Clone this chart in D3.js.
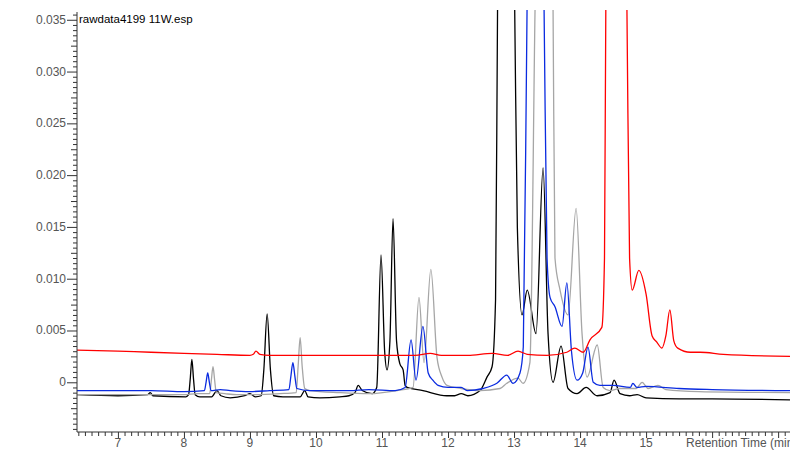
<!DOCTYPE html>
<html>
<head>
<meta charset="utf-8">
<script src="https://cdn.jsdelivr.net/npm/d3@7"></script>
<style>
  body { margin: 0; background: #fff; }
  svg { display: block; font-family: "Liberation Sans", Arial, sans-serif; }
  .trace { fill: none; stroke-width: 1.3; stroke-linejoin: round; }
</style>
</head>
<body>
<div id="chart"></div>
<script>
// retention time (min), absorbance
var titleText = 'rawdata4199 11W.esp';
var xLabel = 'Retention Time (min)';
var xTicks = [7, 8, 9, 10, 11, 12, 13, 14, 15];
var yTicks = [0, 0.005, 0.010, 0.015, 0.020, 0.025, 0.030, 0.035];
var yTickLabels = ['0', '0.005', '0.010', '0.015', '0.020', '0.025', '0.030', '0.035'];

var blackTrace = [
  [6.38,-0.0012],[7.0,-0.0013],[7.45,-0.0012],[7.49,-0.0010],[7.53,-0.0013],[8.03,-0.0014],
  [8.07,-0.0012],[8.095,0.0003],[8.12,0.0022],[8.145,0.0003],[8.17,-0.0012],[8.24,-0.0014],
  [8.42,-0.0014],[8.5,-0.0008],[8.56,-0.0013],[8.7,-0.0015],[8.92,-0.0013],[9.0,-0.0011],
  [9.08,-0.0014],[9.17,-0.0013],[9.21,0.0012],[9.26,0.0066],[9.31,0.0012],[9.36,-0.0013],
  [9.5,-0.0014],[9.76,-0.0014],[9.83,-0.0008],[9.88,-0.0014],[10.06,-0.0015],[10.36,-0.0014],
  [10.5,-0.0013],[10.59,-0.0010],[10.64,-0.0003],[10.7,-0.0008],[10.85,-0.0011],[10.92,-0.0005],
  [10.985,0.0123],[11.04,0.0030],[11.076,0.0012],[11.12,0.0040],[11.167,0.0158],[11.22,0.0040],
  [11.27,0.0018],[11.32,0.0012],[11.35,-0.0003],[11.38,-0.0005],[11.62,-0.0008],[11.98,-0.0013],
  [12.1,-0.0013],[12.2,-0.0011],[12.3,-0.0013],[12.485,-0.0008],[12.59,0.0005],[12.667,0.0015],
  [12.72,0.008],[12.75,0.036],[12.88,0.09],[13.01,0.036],[13.05,0.015],[13.121,0.0065],
  [13.2,0.0089],[13.333,0.0047],[13.44,0.0207],[13.515,0.0047],[13.591,0.0],[13.712,0.0035],
  [13.818,-0.0006],[13.955,-0.0011],[14.091,-0.0005],[14.258,-0.0013],[14.455,-0.0010],
  [14.515,0.0002],[14.606,-0.0011],[14.75,-0.0013],[14.864,-0.0012],[15.0,-0.0015],
  [15.5,-0.0016],[16.0,-0.0016],[17.18,-0.0017]
];

var grayTrace = [
  [6.38,-0.0012],[7.5,-0.0012],[8.0,-0.0012],[8.2,-0.0011],[8.39,-0.0011],[8.415,0.0002],
  [8.44,0.0015],[8.465,0.0002],[8.49,-0.0010],[8.62,-0.0011],[8.8,-0.0012],[9.0,-0.0012],
  [9.45,-0.0011],[9.70,-0.0010],[9.73,0.0016],[9.76,0.0043],[9.79,0.0016],[9.83,-0.0006],
  [9.91,-0.0008],[10.36,-0.0010],[10.8,-0.0011],[11.23,-0.0008],[11.47,-0.0005],[11.56,0.0082],
  [11.636,0.0019],[11.74,0.0109],[11.833,0.0024],[11.909,0.0005],[11.985,-0.0003],[12.2,-0.0006],
  [12.485,-0.0008],[12.788,-0.0006],[12.89,-0.0001],[13.06,0.0004],[13.136,-0.0001],[13.24,0.0019],
  [13.318,0.036],[13.45,0.09],[13.591,0.036],[13.62,0.012],[13.697,0.0089],[13.818,0.0065],
  [13.94,0.0168],[14.03,0.0047],[14.106,0.0005],[14.26,0.0036],[14.35,-0.0005],[14.45,-0.0008],
  [14.6,-0.0006],[14.85,-0.0006],[14.94,0.0],[15.03,-0.0006],[15.18,-0.0003],[15.3,-0.0007],
  [15.8,-0.0009],[17.18,-0.0010]
];

var blueTrace = [
  [6.38,-0.0008],[7.5,-0.0008],[8.0,-0.0009],[8.31,-0.0008],[8.335,0.0000],[8.36,0.0009],
  [8.385,0.0000],[8.41,-0.0008],[8.55,-0.0007],[8.7,-0.0008],[9.0,-0.0009],[9.3,-0.0008],
  [9.59,-0.0007],[9.62,0.0006],[9.65,0.0019],[9.68,0.0006],[9.71,-0.0006],[9.9,-0.0008],
  [10.5,-0.0008],[10.8,-0.0007],[11.2,-0.0008],[11.35,-0.0005],[11.44,0.0041],[11.515,0.0002],
  [11.62,0.0054],[11.7,0.0009],[11.77,0.0002],[11.85,-0.0003],[12.0,-0.0005],[12.2,-0.0005],
  [12.29,-0.0008],[12.53,-0.0006],[12.74,-0.0001],[12.89,0.0007],[12.985,-0.0001],[13.09,0.0009],
  [13.14,0.0034],[13.197,0.036],[13.33,0.09],[13.455,0.036],[13.5,0.012],[13.545,0.0082],
  [13.62,0.0073],[13.727,0.0054],[13.8,0.0096],[13.87,0.003],[13.955,0.0002],[14.04,0.0009],
  [14.12,0.0034],[14.2,0.0],[14.3,-0.0003],[14.5,-0.0003],[14.76,-0.0005],[14.8,-0.0001],
  [14.86,-0.0005],[15.0,-0.0004],[15.5,-0.0006],[16.0,-0.0007],[17.18,-0.0008]
];

var redTrace = [
  [6.38,0.0031],[7.0,0.0030],[7.5,0.0029],[8.0,0.0028],[8.5,0.0027],[9.0,0.0026],[9.05,0.0027],
  [9.09,0.0030],[9.15,0.0027],[9.3,0.0026],[10.0,0.0026],[10.5,0.0026],[11.0,0.0026],[11.5,0.0026],
  [11.73,0.0028],[11.9,0.0026],[12.3,0.0026],[12.67,0.0028],[12.9,0.0026],[13.06,0.0030],
  [13.2,0.0027],[13.5,0.0026],[13.8,0.0029],[13.92,0.0033],[14.05,0.0029],[14.15,0.0041],
  [14.33,0.0053],[14.37,0.012],[14.39,0.036],[14.55,0.09],[14.71,0.036],[14.75,0.012],
  [14.79,0.0089],[14.89,0.0108],[15.0,0.0085],[15.09,0.0045],[15.16,0.0039],[15.24,0.0033],
  [15.3,0.0045],[15.36,0.0070],[15.42,0.0040],[15.48,0.0033],[15.67,0.0029],[15.82,0.0029],
  [16.17,0.0027],[17.18,0.0025]
];

var traces = [
  {name: 'black', color: '#000000', values: blackTrace},
  {name: 'gray', color: '#a6a6a6', values: grayTrace},
  {name: 'blue', color: '#0a2be0', values: blueTrace},
  {name: 'red', color: '#ff0000', values: redTrace}
];

var width = 790, height = 450;
var plot = {left: 77, right: 790, top: 12, bottom: 432};

var x = d3.scaleLinear().domain([6.38, 17.18]).range([plot.left, plot.right]);
var y = d3.scaleLinear().domain([-0.0048, 0.03575]).range([plot.bottom, plot.top]);

var svg = d3.select('#chart').append('svg')
    .attr('width', width).attr('height', height);

svg.append('defs').append('clipPath').attr('id', 'plot-clip')
  .append('rect')
    .attr('x', plot.left).attr('y', plot.top - 2)
    .attr('width', plot.right - plot.left).attr('height', plot.bottom - plot.top + 2);

var line = d3.line()
    .x(function(d){ return x(d[0]); })
    .y(function(d){ return y(d[1]); })
    .curve(d3.curveMonotoneX);

svg.append('g').attr('clip-path', 'url(#plot-clip)')
  .selectAll('path.trace')
  .data(traces).enter().append('path')
    .attr('class', function(d){ return 'trace ' + d.name; })
    .attr('stroke', function(d){ return d.color; })
    .attr('d', function(d){ return line(d.values); });

// y axis, minor ticks every 0.0005
var yAxis = d3.axisLeft(y)
    .tickValues(d3.range(-0.0045, 0.0357, 0.0005))
    .tickFormat('')
    .tickSizeOuter(0)
    .tickSize(4);
var yAxisG = svg.append('g').attr('class', 'y-axis')
    .attr('transform', 'translate(' + plot.left + ',0)')
    .call(yAxis);
yAxisG.selectAll('.tick line')
    .attr('x2', function(d){
        var k = Math.round(d / 0.0005);
        if(k % 10 == 0) return -10;
        if(k % 5 == 0) return -6;
        return -4;
    });
yAxisG.selectAll('.tick text').remove();
yAxisG.select('.domain').attr('d', 'M0,' + plot.top + 'V' + plot.bottom);

svg.append('g').selectAll('text.ylab')
  .data(yTicks).enter().append('text')
    .attr('class', 'ylab')
    .attr('x', plot.left - 11)
    .attr('y', function(d){ return y(d) + 4; })
    .attr('text-anchor', 'end')
    .attr('font-size', '12px').attr('fill', '#555')
    .text(function(d, i){ return yTickLabels[i]; });

// x axis, minor ticks every 0.1 min
var xAxis = d3.axisBottom(x)
    .tickValues(d3.range(6.4, 17.15, 0.1))
    .tickFormat('')
    .tickSizeOuter(0)
    .tickSize(4);
var xAxisG = svg.append('g').attr('class', 'x-axis')
    .attr('transform', 'translate(0,' + plot.bottom + ')')
    .call(xAxis);
xAxisG.selectAll('.tick line')
    .attr('y2', function(d){ return Math.abs(d - Math.round(d)) < 0.01 ? 6 : 4; });
xAxisG.select('.domain').attr('d', 'M' + plot.left + ',0H' + plot.right);

svg.selectAll('.domain, .tick line').attr('stroke', '#333').attr('stroke-width', 1);

svg.append('g').selectAll('text.xlab')
  .data(xTicks).enter().append('text')
    .attr('class', 'xlab')
    .attr('x', function(d){ return x(d); })
    .attr('y', plot.bottom + 15)
    .attr('text-anchor', 'middle')
    .attr('font-size', '12px').attr('fill', '#555')
    .text(function(d){ return d; });

svg.append('text')
    .attr('x', 686).attr('y', plot.bottom + 15)
    .attr('font-size', '12px').attr('fill', '#555')
    .text(xLabel);

svg.append('text')
    .attr('x', plot.left + 2).attr('y', 23)
    .attr('font-size', '11.5px').attr('fill', '#000')
    .text(titleText);
</script>
</body>
</html>
